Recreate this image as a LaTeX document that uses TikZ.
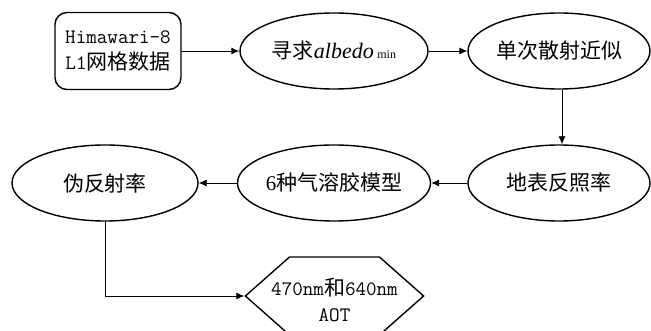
\documentclass[tikz,border=0pt]{standalone}
\usepackage{fontspec}
\setmainfont{Liberation Serif}
\newfontfamily\cjk{Noto Sans CJK SC}
\usetikzlibrary{shapes.geometric,shapes.symbols,arrows.meta}
\tikzset{
  oval/.style={draw, ellipse, line width=1.4pt, minimum height=76pt, inner sep=0pt},
  flow/.style={-{Latex[length=8pt,width=7pt]}, line width=0.9pt}
}
\newcommand{\halfw}[1]{{\ttfamily\fontsize{20.5}{26}\selectfont #1}}
\begin{document}
\begin{tikzpicture}[x=1pt, y=-1pt]\tikzstyle{every node}=[font=\fontsize{21}{26}\selectfont\cjk]
\useasboundingbox (0,0) rectangle (651,331);
% input data
  \node[draw, rounded corners=12pt, line width=1.4pt, minimum width=126pt, minimum height=77pt, align=center] (data) at (118,51)%
{%
  \halfw{Himawari-8}\\
  \halfw{L1}网格数据
};
% albedo min
  \node[oval, minimum width=188pt] (albedo) at (334,51)%
{%
  寻求{\rmfamily\itshape\fontsize{22}{26}\selectfont albedo}\,{\rmfamily\fontsize{12}{14}\selectfont min}
};
% single scattering
  \node[oval, minimum width=182pt] (single) at (559,51) {单次散射近似};
% surface
  \node[oval, minimum width=182pt] (surface) at (559,183) {地表反照率};
% aerosol
  \node[oval, minimum width=188pt] (aerosol) at (334,183) {{\rmfamily 6}种气溶胶模型};
% pseudo
  \node[oval, minimum width=186pt] (pseudo) at (105,183) {伪反射率};
% AOT
  \node[draw, shape=signal, signal to=west and east, signal pointer angle=83, line width=1.4pt,
        minimum height=78pt, inner sep=0pt, text height=8pt, text depth=8pt] (aot) at (334.5,296)%
{%
  \makebox[90pt][c]{%
  \begin{tabular}[t]{@{}c@{}}
    \halfw{470nm}和\halfw{640nm}\\
    \halfw{AOT}
  \end{tabular}}
};
%%%%%%%%%%%%%%%%
\draw[flow] (data.east) -- (albedo.west);
\draw[flow] (albedo.east) -- (single.west);
\draw[flow] ([xshift=3pt]single.south) -- ([xshift=3pt]surface.north);
\draw[flow] (surface.west) -- (aerosol.east);
\draw[flow] (aerosol.west) -- (pseudo.east);
\draw[flow] (pseudo.south) |- (aot.west);
\end{tikzpicture}
\end{document}
